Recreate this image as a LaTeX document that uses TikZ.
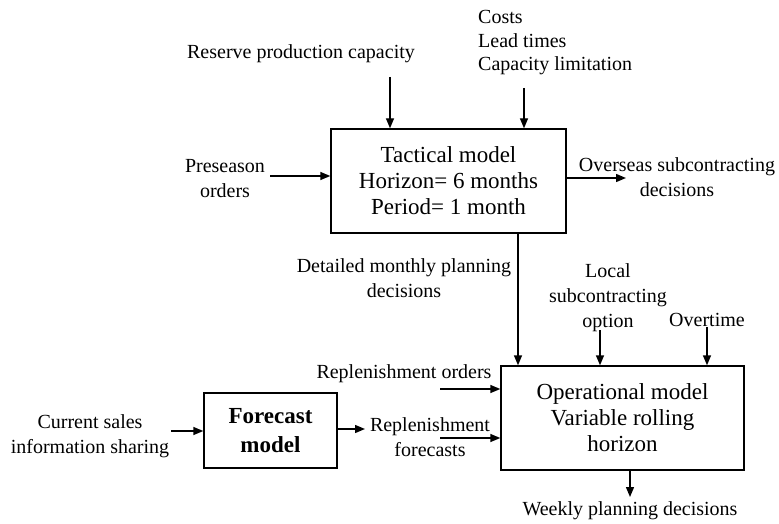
\documentclass[tikz,border=0pt]{standalone}
\usepackage{fontspec}
\setmainfont{Liberation Serif}
\usetikzlibrary{arrows.meta}
\begin{document}
\begin{tikzpicture}[x=1pt,y=-1pt,
  box/.style={draw, line width=1.4pt, inner sep=0pt, align=center, font=\fontsize{23}{26}\selectfont},
  lbl/.style={inner sep=0pt, align=center, font=\fontsize{20}{25}\selectfont},
  arr/.style={line width=1.4pt, -{Triangle[length=10pt,width=8pt]}}]
\useasboundingbox (0,0) rectangle (779,524);
% boxes
\node[box, minimum width=235pt, minimum height=104pt] (tac) at (448.5,181) {Tactical model\\Horizon= 6 months\\Period= 1 month};
\node[box, minimum width=243pt, minimum height=104pt] (op) at (622.5,418) {Operational model\\Variable rolling\\horizon};
\node[box, minimum width=133pt, minimum height=75pt, font=\fontsize{23}{29}\selectfont\bfseries] (fc) at (270.5,430.5) {Forecast\\model};
% labels
\node[lbl] (res) at (301,54) {Reserve production capacity};
\node[lbl, align=left, anchor=west, font=\fontsize{20}{23.5}\selectfont] (cost) at (478,43) {Costs\\Lead times\\Capacity limitation};
\node[lbl] (pre) at (225,179) {Preseason\\orders};
\node[lbl] (ovs) at (677,177) {Overseas subcontracting\\decisions};
\node[lbl] (det) at (404,278) {Detailed monthly planning\\decisions};
\node[lbl] (loc) at (608,298) {Local\\subcontracting\\option};
\node[lbl] (ovt) at (707,320) {Overtime};
\node[lbl] (cur) at (90,436) {Current sales\\information sharing};
\node[lbl] (ro) at (404,374) {Replenishment orders};
\node[lbl] (rf) at (430,437) {Replenishment\\forecasts};
\node[lbl] (wk) at (630,511) {Weekly planning decisions};
% coordinates
\coordinate (a1) at (390,77);
\coordinate (a2) at (524,88);
\coordinate (a3) at (270,176);
\coordinate (a4) at (626,178);
\coordinate (a5) at (600,330);
\coordinate (a6) at (707,327);
\coordinate (a7) at (171,431);
\coordinate (a8) at (365,429);
\coordinate (a9) at (440,389);
\coordinate (a10) at (440,438);
\coordinate (a11) at (630,497);
% arrows
\draw[arr] (a1) -- (a1 |- tac.north);
\draw[arr] (a2) -- (a2 |- tac.north);
\draw[arr] (a3) -- (a3 -| tac.west);
\draw[arr] (a4 -| tac.east) -- (a4);
\draw[arr] (tac.south -| 518,0) -- (518,0 |- op.north);
\draw[arr] (a5) -- (a5 |- op.north);
\draw[arr] (a6) -- (a6 |- op.north);
\draw[arr] (a7) -- (a7 -| fc.west);
\draw[arr] (a8 -| fc.east) -- (a8);
\draw[arr] (a9) -- (a9 -| op.west);
\draw[arr] (a10) -- (a10 -| op.west);
\draw[arr] (a11 |- op.south) -- (a11);
\end{tikzpicture}
\end{document}
